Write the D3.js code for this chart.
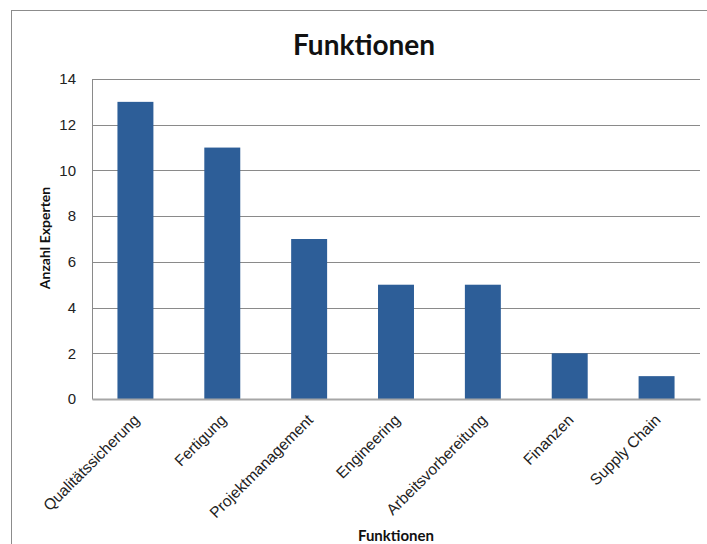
<!DOCTYPE html>
<html><head><meta charset="utf-8">
<script src="https://cdn.jsdelivr.net/npm/d3@7"></script>
<style>body{margin:0;background:#fff;} svg{display:block;font-family:Lato,"Open Sans",sans-serif;}</style>
</head><body>
<svg id="c" width="707" height="544"></svg>
<script>
const categories = ["Qualitätssicherung","Fertigung","Projektmanagement","Engineering","Arbeitsvorbereitung","Finanzen","Supply Chain"];
const values = [13,11,7,5,5,2,1];
const yTicks = [0,2,4,6,8,10,12,14];
const title = "Funktionen";
const xTitle = "Funktionen";
const yTitle = "Anzahl Experten";

(function(){
const svg = d3.select("#c");
const pLeft = 92, pRight = 700, pTop = 79, pBottom = 399;

// outer chart border
svg.append("rect").attr("x",11.5).attr("y",10.5).attr("width",720).attr("height",560)
  .attr("fill","none").attr("stroke","#8c8c8c").attr("stroke-width",1);

const x = d3.scaleBand().domain(categories).range([pLeft,pRight]).paddingInner(0.586).paddingOuter(0.293);
const y = d3.scaleLinear().domain([0,14]).range([pBottom,pTop]);

// gridlines
svg.append("g").selectAll("line").data(yTicks.filter(d=>d>0)).join("line")
  .attr("x1",pLeft).attr("x2",pRight).attr("y1",d=>Math.round(y(d))+0.5).attr("y2",d=>Math.round(y(d))+0.5)
  .attr("stroke","#8a8a8a").attr("stroke-width",1);

// y axis
const ya = svg.append("g").attr("transform",`translate(${pLeft},0)`)
  .call(d3.axisLeft(y).tickValues(yTicks).tickSize(0).tickPadding(16));
ya.select(".domain").attr("stroke","#8a8a8a");
ya.selectAll("text").attr("font-size",15).attr("fill","#222");

// bars
svg.append("g").selectAll("rect").data(values).join("rect")
  .attr("x",(d,i)=>x(categories[i])).attr("width",x.bandwidth())
  .attr("y",d=>y(d)).attr("height",d=>pBottom-y(d))
  .attr("fill","#2d5e98");

// x axis
const xa = svg.append("g").attr("transform",`translate(0,${pBottom})`)
  .call(d3.axisBottom(x).tickSize(0).tickPadding(0));
xa.select(".domain").attr("stroke","#a6a6a6").attr("stroke-width",2);
xa.selectAll("text").attr("font-size",15.5).attr("fill","#222")
  .attr("text-anchor","end").attr("dy",0)
  .attr("transform","translate(5,22) rotate(-45)");

// titles
svg.append("text").attr("x",364).attr("y",55).attr("text-anchor","middle")
  .attr("font-size",28).attr("font-weight","bold").attr("fill","#111").text(title);
svg.append("text").attr("x",396).attr("y",541).attr("text-anchor","middle")
  .attr("font-size",15).attr("font-weight","bold").attr("fill","#111").text(xTitle);
svg.append("text").attr("transform","translate(50,238) rotate(-90)").attr("text-anchor","middle")
  .attr("font-size",14).attr("font-weight","bold").attr("fill","#111").text(yTitle);
})();
</script>
</body></html>
